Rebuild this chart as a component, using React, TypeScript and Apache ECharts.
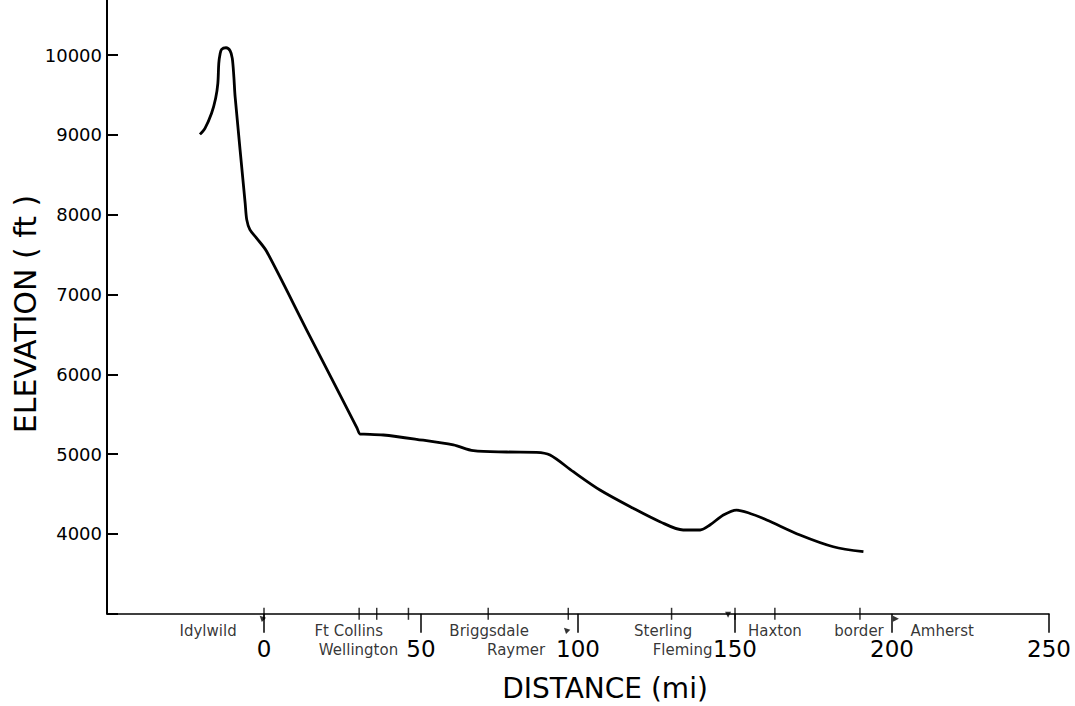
import { useEffect, useRef } from "react";
import * as echarts from "echarts";

// Elevation profile (distance in miles, elevation in feet)
const distanceMi = [
  -20.4, -18.8, -16.7, -15.4, -14.7, -14.4, -14.0, -13.5, -12.1, -10.8, -10.1, -9.6, -9.2,
  -6.0, -5.5, -4.5, -2.3, 0.9, 13.6, 29.6, 30.6, 31.8, 38.0, 48.6, 60.3, 66.7, 77.3, 86.8, 91.1, 98.5,
  107.0, 117.6, 126.1, 133.5, 138.9, 142.0, 146.3, 150.5, 154.2, 160.1, 170.7, 181.3, 190.9,
];
const elevationFt = [
  9006, 9082, 9270, 9458, 9645, 9896, 10010, 10071, 10091, 10054, 9958, 9728, 9478,
  8146, 7938, 7813, 7704, 7536, 6555, 5330, 5252, 5250, 5240, 5186, 5115, 5043, 5027, 5023, 4989, 4780,
  4551, 4322, 4154, 4050, 4050, 4112, 4238, 4300, 4266, 4175, 3987, 3840, 3778,
];

// Town names along the route (upper and lower label rows) with their mile positions
const upperTownNames = ["Idylwild", "Ft Collins", "Briggsdale", "Sterling", "Haxton", "border", "Amherst"];
const upperTownMi = [-17.8, 27.0, 71.7, 127.1, 162.7, 189.5, 216.0];
const lowerTownNames = ["Wellington", "Raymer", "Fleming"];
const lowerTownMi = [30.1, 80.3, 133.3];

// Small cross marks on the distance axis (town locations)
const townMarkMi = [0, 30.3, 35.9, 46.0, 71.4, 96.9, 129.8, 150.0, 162.7, 189.8];
// Small arrow marks below the axis
const arrowMi = [-0.7, 96.2, 147.8, 200.3];

const xTickValues = [0, 50, 100, 150, 200, 250];
const yLabelMin = 4000;
const yLabelMax = 10000;

const FONT = "DejaVu Sans";

export default function App() {
  const ref = useRef<HTMLDivElement>(null);

  useEffect(() => {
    if (!ref.current) return;
    const chart = echarts.init(ref.current, null, { renderer: "svg" });

    const profile = distanceMi.map((d, i) => [d, elevationFt[i]]);
    const arrowStyles = [
      { rot: 45, off: [0, 4] },
      { rot: 45, off: [0, 16] },
      { rot: 180, off: [0, 1] },
      { rot: -90, off: [3, 5] },
    ];

    const option: any = {
      animation: false,
      grid: {
        left: 107,
        right: 26,
        top: -24.8,
        bottom: 92.2,
        containLabel: false,
        outerBoundsMode: "none",
      },
      xAxis: {
        type: "value",
        min: -50,
        max: 250,
        interval: 50,
        axisLine: { show: true, onZero: false, lineStyle: { color: "#000", width: 1.5 } },
        axisTick: {
          show: true,
          inside: false,
          length: 19,
          customValues: xTickValues,
          lineStyle: { color: "#000", width: 1.5 },
        },
        axisLabel: {
          show: true,
          customValues: xTickValues,
          margin: 24,
          color: "#000",
          fontSize: 23,
          fontFamily: FONT,
          formatter: (v: number) => (v < 0 ? "" : String(v)),
        },
        splitLine: { show: false },
      },
      yAxis: {
        type: "value",
        min: 3000,
        max: 11000,
        interval: 1000,
        axisLine: { show: true, onZero: false, lineStyle: { color: "#000", width: 2 } },
        axisTick: {
          show: true,
          inside: true,
          length: 11,
          lineStyle: { color: "#000", width: 2 },
        },
        axisLabel: {
          show: true,
          showMinLabel: true,
          showMaxLabel: true,
          margin: 5,
          color: "#000",
          fontSize: 18,
          fontFamily: FONT,
          formatter: (v: number) => (v >= yLabelMin && v <= yLabelMax ? String(v) : ""),
        },
        splitLine: { show: false },
      },
      series: [
        {
          type: "line",
          data: profile,
          symbol: "none",
          smooth: 0.3,
          lineStyle: { color: "#000", width: 2.8 },
          z: 3,
        },
        {
          type: "scatter",
          data: townMarkMi.map((d) => [d, 3000]),
          symbol: "rect",
          symbolSize: [1.5, 12],
          itemStyle: { color: "#000" },
          clip: false,
          silent: true,
          z: 4,
        },
        {
          type: "scatter",
          data: arrowMi.map((d, i) => ({
            value: [d, 3000],
            symbolRotate: arrowStyles[i].rot,
            symbolOffset: arrowStyles[i].off,
          })),
          symbol: "triangle",
          symbolSize: 6,
          itemStyle: { color: "#000" },
          clip: false,
          silent: true,
          z: 4,
        },
        {
          type: "scatter",
          data: upperTownNames.map((n, i) => ({ name: n, value: [upperTownMi[i], 3000] })),
          symbolSize: 0,
          clip: false,
          silent: true,
          label: {
            show: true,
            position: "inside",
            offset: [0, 17],
            formatter: (p: any) => p.name,
            color: "#000",
            fontSize: 15,
            fontFamily: FONT,
          },
        },
        {
          type: "scatter",
          data: lowerTownNames.map((n, i) => ({ name: n, value: [lowerTownMi[i], 3000] })),
          symbolSize: 0,
          clip: false,
          silent: true,
          label: {
            show: true,
            position: "inside",
            offset: [0, 36],
            formatter: (p: any) => p.name,
            color: "#000",
            fontSize: 15,
            fontFamily: FONT,
          },
        },
      ],
      graphic: [
        {
          type: "text",
          x: 25,
          y: 314,
          rotation: Math.PI / 2,
          style: {
            text: "ELEVATION ( ft )",
            fontSize: 30,
            fontFamily: FONT,
            fill: "#000",
            textAlign: "center",
            textVerticalAlign: "middle",
          },
        },
        {
          type: "text",
          x: 605,
          y: 688,
          style: {
            text: "DISTANCE (mi)",
            fontSize: 28,
            fontFamily: FONT,
            fill: "#000",
            textAlign: "center",
            textVerticalAlign: "middle",
          },
        },
      ],
    };

    chart.setOption(option);
    return () => chart.dispose();
  }, []);

  return (
    <div
      ref={ref}
      style={{ position: "absolute", left: 0, top: 0, width: 1075, height: 706, background: "#fff" }}
    />
  );
}
